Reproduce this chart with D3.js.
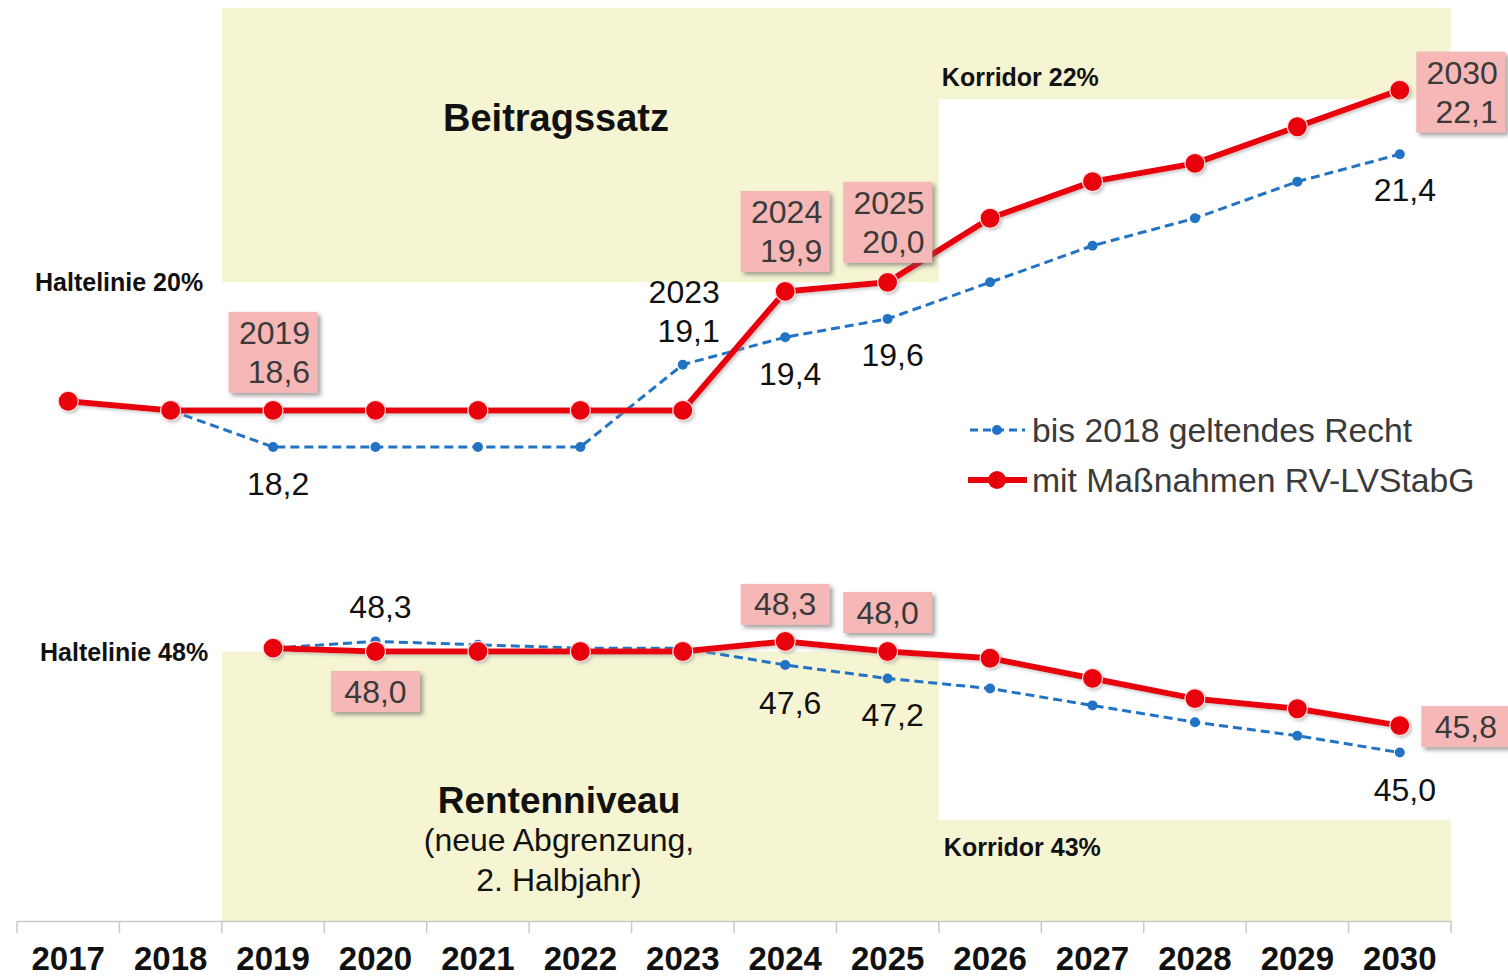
<!DOCTYPE html>
<html lang="de">
<head>
<meta charset="utf-8">
<title>Beitragssatz und Rentenniveau</title>
<script src="https://cdn.jsdelivr.net/npm/d3@7"></script>
<style>
body { margin: 0; background: #fff; }
text { font-family: "Liberation Sans", Arial, sans-serif; }
</style>
</head>
<body>
<script>
// Daten
var years = [2017, 2018, 2019, 2020, 2021, 2022, 2023, 2024, 2025, 2026, 2027, 2028, 2029, 2030];
var beitragAlt = [null, 18.6, 18.2, 18.2, 18.2, 18.2, 19.1, 19.4, 19.6, 20.0, 20.4, 20.7, 21.1, 21.4];
var beitragNeu = [18.7, 18.6, 18.6, 18.6, 18.6, 18.6, 18.6, 19.9, 20.0, 20.7, 21.1, 21.3, 21.7, 22.1];
var rentenAlt = [null, null, 48.1, 48.3, 48.2, 48.1, 48.1, 47.6, 47.2, 46.9, 46.4, 45.9, 45.5, 45.0];
var rentenNeu = [null, null, 48.1, 48.0, 48.0, 48.0, 48.0, 48.3, 48.0, 47.8, 47.2, 46.6, 46.3, 45.8];
var beitragGrenze = [null, null, 20, 20, 20, 20, 20, 20, 20, 22, 22, 22, 22, 22];
var rentenGrenze = [null, null, 48, 48, 48, 48, 48, 48, 48, 43, 43, 43, 43, 43];
var seriesNames = ["bis 2018 geltendes Recht", "mit Maßnahmen RV-LVStabG"];

var w = 1508;
var h = 979;
var red = "#e8000b";
var blue = "#2273c4";
var shade = "#f5f5d3";
var pink = "#f6b8b6";

var fmt = d3.formatLocale({decimal: ",", thousands: ".", grouping: [3], currency: ["", ""]}).format(".1f");

var x = d3.scaleBand().domain(years).range([17, 1451]);
var cx = function(yr) { return x(yr) + x.bandwidth() / 2; };
var yTop = d3.scaleLinear().domain([20, 23]).range([282.3, 7.8]);
var yBot = d3.scaleLinear().domain([40, 48]).range([921, 651.5]);

var svg = d3.select("body").append("svg")
	.attr("width", w)
	.attr("height", h);

var defs = svg.append("defs");
defs.append("filter").attr("id", "shadow")
	.attr("x", "-20%").attr("y", "-20%").attr("width", "150%").attr("height", "150%")
	.append("feDropShadow")
	.attr("dx", 3).attr("dy", 3).attr("stdDeviation", 2)
	.attr("flood-color", "#666").attr("flood-opacity", 0.6);
defs.append("filter").attr("id", "soft")
	.attr("x", "-20%").attr("y", "-20%").attr("width", "150%").attr("height", "150%")
	.append("feDropShadow")
	.attr("dx", 2).attr("dy", 2).attr("stdDeviation", 1.5)
	.attr("flood-color", "#999").attr("flood-opacity", 0.5);

//Schattierte Bereiche (Haltelinie / Korridor)
function shadePoints(grenze) {
	var pts = [];
	years.forEach(function(yr, i) {
		if (grenze[i] == null) return;
		pts.push([x(yr), grenze[i]]);
		pts.push([x(yr) + x.bandwidth(), grenze[i]]);
	});
	return pts;
}
svg.append("path")
	.datum(shadePoints(beitragGrenze))
	.attr("fill", shade)
	.attr("d", d3.area()
		.x(function(d) { return d[0]; })
		.y0(yTop(23))
		.y1(function(d) { return yTop(d[1]); }));
svg.append("path")
	.datum(shadePoints(rentenGrenze))
	.attr("fill", shade)
	.attr("d", d3.area()
		.x(function(d) { return d[0]; })
		.y0(yBot(40))
		.y1(function(d) { return yBot(d[1]); }));

//X-Achse
var xAxis = d3.axisBottom(x).tickSizeInner(0).tickSizeOuter(0).tickPadding(26);
var axisG = svg.append("g")
	.attr("transform", "translate(0," + yBot(40) + ")")
	.call(xAxis);
axisG.select(".domain").attr("stroke", "#c9c9c9").attr("stroke-width", 1.5);
axisG.selectAll("text")
	.attr("font-size", 33)
	.attr("font-weight", "bold")
	.attr("fill", "#111")
	.style("font-family", "'Liberation Sans', Arial, sans-serif");
svg.append("g")
	.selectAll("line")
	.data(years.map(function(d) { return x(d); }).concat([x(2030) + x.bandwidth()]))
	.enter()
	.append("line")
	.attr("x1", function(d) { return d; })
	.attr("x2", function(d) { return d; })
	.attr("y1", yBot(40))
	.attr("y2", yBot(40) + 12)
	.attr("stroke", "#c9c9c9")
	.attr("stroke-width", 1.5);

//Linien zeichnen
function drawSeries(values, yScale, isNew) {
	var pts = years.map(function(yr, i) { return {yr: yr, v: values[i]}; })
		.filter(function(d) { return d.v != null; });
	var line = d3.line()
		.x(function(d) { return cx(d.yr); })
		.y(function(d) { return yScale(d.v); });
	var g = svg.append("g");
	if (isNew) {
		g.attr("filter", "url(#soft)");
		g.append("path").datum(pts)
			.attr("fill", "none")
			.attr("stroke", red)
			.attr("stroke-width", 6)
			.attr("stroke-linejoin", "round")
			.attr("d", line);
		g.selectAll("circle").data(pts).enter().append("circle")
			.attr("cx", function(d) { return cx(d.yr); })
			.attr("cy", function(d) { return yScale(d.v); })
			.attr("r", 10)
			.attr("fill", red)
			.attr("stroke", "#ffe0e0")
			.attr("stroke-width", 1.2);
	} else {
		g.append("path").datum(pts)
			.attr("fill", "none")
			.attr("stroke", blue)
			.attr("stroke-width", 3)
			.attr("stroke-dasharray", "9,5")
			.attr("d", line);
		g.selectAll("circle").data(pts).enter().append("circle")
			.attr("cx", function(d) { return cx(d.yr); })
			.attr("cy", function(d) { return yScale(d.v); })
			.attr("r", 5)
			.attr("fill", blue);
	}
}
drawSeries(beitragAlt, yTop, false);
drawSeries(beitragNeu, yTop, true);
drawSeries(rentenAlt, yBot, false);
drawSeries(rentenNeu, yBot, true);

//Datenbeschriftungen
var labelLayout = [
	{vals: beitragNeu, y: yTop, yr: 2019, box: true, withYear: true, dx: 0, dy: -58},
	{vals: beitragAlt, y: yTop, yr: 2019, dx: 5, dy: 37},
	{vals: beitragAlt, y: yTop, yr: 2023, withYear: true, dx: 0, dy: -54},
	{vals: beitragNeu, y: yTop, yr: 2024, box: true, withYear: true, dx: 0, dy: -60},
	{vals: beitragAlt, y: yTop, yr: 2024, dx: 5, dy: 37},
	{vals: beitragNeu, y: yTop, yr: 2025, box: true, withYear: true, dx: 0, dy: -60},
	{vals: beitragAlt, y: yTop, yr: 2025, dx: 5, dy: 36},
	{vals: beitragNeu, y: yTop, yr: 2030, box: true, withYear: true, dx: 61, dy: 2},
	{vals: beitragAlt, y: yTop, yr: 2030, dx: 5, dy: 36},
	{vals: rentenAlt, y: yBot, yr: 2020, dx: 5, dy: -34},
	{vals: rentenNeu, y: yBot, yr: 2020, box: true, dx: 0, dy: 40},
	{vals: rentenNeu, y: yBot, yr: 2024, box: true, dx: 0, dy: -37},
	{vals: rentenAlt, y: yBot, yr: 2024, dx: 5, dy: 38},
	{vals: rentenNeu, y: yBot, yr: 2025, box: true, dx: 0, dy: -39},
	{vals: rentenAlt, y: yBot, yr: 2025, dx: 5, dy: 37},
	{vals: rentenNeu, y: yBot, yr: 2030, box: true, dx: 66, dy: 1},
	{vals: rentenAlt, y: yBot, yr: 2030, dx: 5, dy: 37}
];

var labelG = svg.append("g");
labelLayout.forEach(function(l) {
	var v = l.vals[years.indexOf(l.yr)];
	var px = cx(l.yr) + l.dx;
	var py = l.y(v) + l.dy;
	var lines = l.withYear ? [String(l.yr), fmt(v)] : [fmt(v)];
	if (l.box) {
		var bh = lines.length === 2 ? 81 : 41;
		labelG.append("rect")
			.attr("x", px - 44.5)
			.attr("y", py - bh / 2)
			.attr("width", 89)
			.attr("height", bh)
			.attr("fill", pink)
			.attr("filter", "url(#shadow)");
	}
	var t = labelG.append("text")
		.attr("font-size", 32)
		.attr("fill", l.box ? "#3a3a3a" : "#111");
	if (lines.length === 2) {
		t.attr("text-anchor", "end");
		lines.forEach(function(s, i) {
			t.append("tspan")
				.attr("x", px + 37)
				.attr("y", py + (i === 0 ? -19 : 20))
				.attr("dominant-baseline", "central")
				.text(s);
		});
	} else {
		t.attr("text-anchor", "middle")
			.attr("x", px)
			.attr("y", py)
			.attr("dominant-baseline", "central")
			.text(lines[0]);
	}
});

//Beschriftung der Grenzlinien
function boldLabel(txt, px, py) {
	svg.append("text")
		.attr("x", px).attr("y", py)
		.attr("dominant-baseline", "central")
		.attr("font-size", 25)
		.attr("font-weight", "bold")
		.attr("fill", "#111")
		.text(txt);
}
boldLabel("Haltelinie 20%", 35, yTop(20));
boldLabel("Korridor 22%", x(2026) + 3, yTop(22) - 22);
boldLabel("Haltelinie 48%", 40, yBot(48));
boldLabel("Korridor 43%", x(2026) + 5, yBot(43) + 27);

//Titel der Bereiche
svg.append("text")
	.attr("x", 556).attr("y", 118)
	.attr("text-anchor", "middle")
	.attr("dominant-baseline", "central")
	.attr("font-size", 38)
	.attr("font-weight", "bold")
	.attr("fill", "#111")
	.text("Beitragssatz");
var rt = svg.append("text")
	.attr("text-anchor", "middle")
	.attr("fill", "#111");
rt.append("tspan").attr("x", 559).attr("y", 800)
	.attr("dominant-baseline", "central")
	.attr("font-size", 37).attr("font-weight", "bold")
	.text("Rentenniveau");
rt.append("tspan").attr("x", 559).attr("y", 840)
	.attr("dominant-baseline", "central")
	.attr("font-size", 32)
	.text("(neue Abgrenzung,");
rt.append("tspan").attr("x", 559).attr("y", 880)
	.attr("dominant-baseline", "central")
	.attr("font-size", 32)
	.text("2. Halbjahr)");

//Legende
var legend = svg.append("g").attr("transform", "translate(968,430)");
legend.append("line")
	.attr("x1", 2).attr("x2", 57).attr("y1", 0).attr("y2", 0)
	.attr("stroke", blue).attr("stroke-width", 3).attr("stroke-dasharray", "8,5");
legend.append("circle").attr("cx", 29).attr("cy", 0).attr("r", 5).attr("fill", blue);
legend.append("line")
	.attr("x1", 0).attr("x2", 59).attr("y1", 50).attr("y2", 50)
	.attr("stroke", red).attr("stroke-width", 6);
legend.append("circle").attr("cx", 29).attr("cy", 50).attr("r", 9).attr("fill", red);
legend.selectAll("text")
	.data(seriesNames)
	.enter()
	.append("text")
	.attr("x", 64)
	.attr("y", function(d, i) { return i * 50; })
	.attr("dominant-baseline", "central")
	.attr("font-size", 33.7)
	.attr("fill", "#3a3a3a")
	.text(function(d) { return d; });
</script>
</body>
</html>
